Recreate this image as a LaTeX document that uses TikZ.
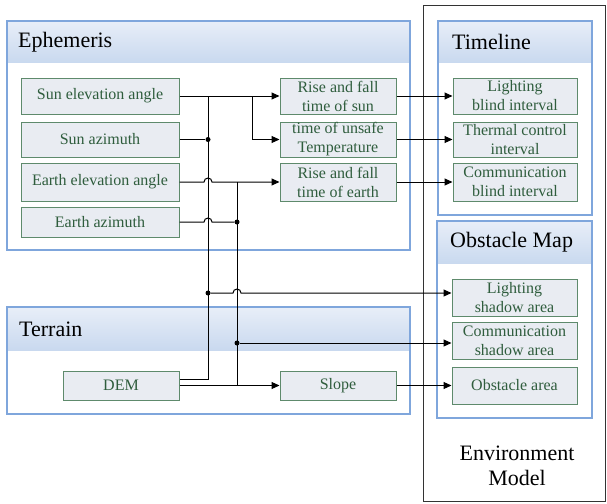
\documentclass[tikz,border=0pt]{standalone}
\usepackage{fontspec}
\setmainfont{Liberation Serif}
\usetikzlibrary{arrows.meta}
\definecolor{nodefill}{HTML}{E9ECF2}
\definecolor{nodeborder}{HTML}{5E8A6C}
\definecolor{nodetext}{HTML}{2F5D3D}
\definecolor{grpborder}{HTML}{7FA6DC}
\definecolor{hdrtop}{HTML}{E8EEF8}
\definecolor{hdrbot}{HTML}{C9D9EF}
\definecolor{envborder}{HTML}{333333}
\begin{document}
\begin{tikzpicture}[x=1pt,y=-1pt,
  box/.style={draw=nodeborder, fill=nodefill, text=nodetext, font=\fontsize{16}{19}\selectfont, align=center, inner sep=0pt, line width=1pt},
  conn/.style={line width=1pt},
  arr/.style={conn,-{Triangle[length=8pt,width=7pt]}},
  jdot/.style={circle, fill=black, inner sep=0pt, minimum size=5pt},
  hdr/.style={font=\fontsize{22}{26}\selectfont, anchor=west, inner sep=0pt},
  grp/.style={draw=grpborder, line width=1.2pt},
  hdrband/.style={top color=hdrtop, bottom color=hdrbot}]
\useasboundingbox (0,0) rectangle (607,503);

% environment model outer box
\draw[envborder, line width=1pt] (423,6) rectangle (605,501);
\node[font=\fontsize{22}{25}\selectfont, align=center] (envlabel) at (517,466) {Environment\\Model};

% groups
\fill[hdrband] (7,21) rectangle (410,62);
\draw[grp] (7,21) rectangle (410,250);
\node[hdr] (ephhdr) at (18,42) {Ephemeris};

\fill[hdrband] (7,307) rectangle (410,350);
\draw[grp] (7,307) rectangle (410,414);
\node[hdr] (terhdr) at (19,329) {Terrain};

\fill[hdrband] (438,21) rectangle (592,62);
\draw[grp] (438,21) rectangle (592,215);
\node[hdr] (timhdr) at (452,42) {Timeline};

\fill[hdrband] (437,221) rectangle (592,263);
\draw[grp] (437,221) rectangle (592,418);
\node[hdr] (obshdr) at (450,242) {Obstacle Map};

% nodes
\node[box, minimum width=158pt, minimum height=36pt] (sunel) at (100,96) {Sun elevation angle};
\node[box, minimum width=158pt, minimum height=35pt] (sunaz) at (100,139.5) {Sun azimuth};
\node[box, minimum width=158pt, minimum height=38pt] (earthel) at (100,182) {Earth elevation angle};
\node[box, minimum width=158pt, minimum height=30pt] (earthaz) at (100,222) {Earth azimuth};

\node[box, minimum width=116pt, minimum height=36pt] (risesun) at (338,96) {Rise and fall\\time of sun};
\node[box, minimum width=116pt, minimum height=35pt] (unsafe) at (338,139.5) {time of unsafe\\Temperature};
\node[box, minimum width=116pt, minimum height=38pt] (riseearth) at (338,182) {Rise and fall\\time of earth};

\node[box, minimum width=124pt, minimum height=36pt] (lblind) at (515,96) {Lighting\\blind interval};
\node[box, minimum width=124pt, minimum height=35pt] (thermal) at (515,139.5) {Thermal control\\interval};
\node[box, minimum width=124pt, minimum height=38pt] (cblind) at (515,182) {Communication\\blind interval};

\node[box, minimum width=125pt, minimum height=37pt] (lshadow) at (514.5,297.5) {Lighting\\shadow area};
\node[box, minimum width=125pt, minimum height=37pt] (cshadow) at (514.5,340.5) {Communication\\shadow area};
\node[box, minimum width=125pt, minimum height=37pt] (obsarea) at (514.5,385.5) {Obstacle area};

\node[box, minimum width=116pt, minimum height=29pt] (dem) at (121,385.5) {DEM};
\node[box, minimum width=116pt, minimum height=29pt] (slope) at (338,385.5) {Slope};

% junction coordinates
\coordinate (atop) at (208,96);
\coordinate (abot) at (208,379);
\coordinate (br) at (252,96);
\coordinate (btop) at (237,182);
\coordinate (bbot) at (237,385.5);
\node[jdot] (da1) at (208,139.5) {};
\node[jdot] (da2) at (208,293) {};
\node[jdot] (db1) at (237,222) {};
\node[jdot] (db2) at (237,343) {};

% connectors
\draw[arr] (sunel.east) -- (risesun.west);
\draw[arr] (br) |- (unsafe.west);
\draw[conn] (atop) -- (abot) -- (dem.east |- abot);
\draw[conn] (sunaz.east) -- (da1);
\draw[arr] (earthel.east) -- (204,182) arc[start angle=180,end angle=0,radius=4pt] -- (riseearth.west);
\draw[conn] (btop) -- (bbot);
\draw[conn] (earthaz.east) -- (204,222) arc[start angle=180,end angle=0,radius=4pt] -- (db1);
\draw[arr] (da2) -- (233,293) arc[start angle=180,end angle=0,radius=4pt] -- (lshadow.west |- da2);
\draw[arr] (db2) -- (cshadow.west |- db2);
\draw[arr] (dem.east) -- (slope.west);

\draw[arr] (risesun.east) -- (lblind.west);
\draw[arr] (unsafe.east) -- (thermal.west);
\draw[arr] (riseearth.east) -- (cblind.west);
\draw[arr] (slope.east) -- (obsarea.west);
\end{tikzpicture}
\end{document}
